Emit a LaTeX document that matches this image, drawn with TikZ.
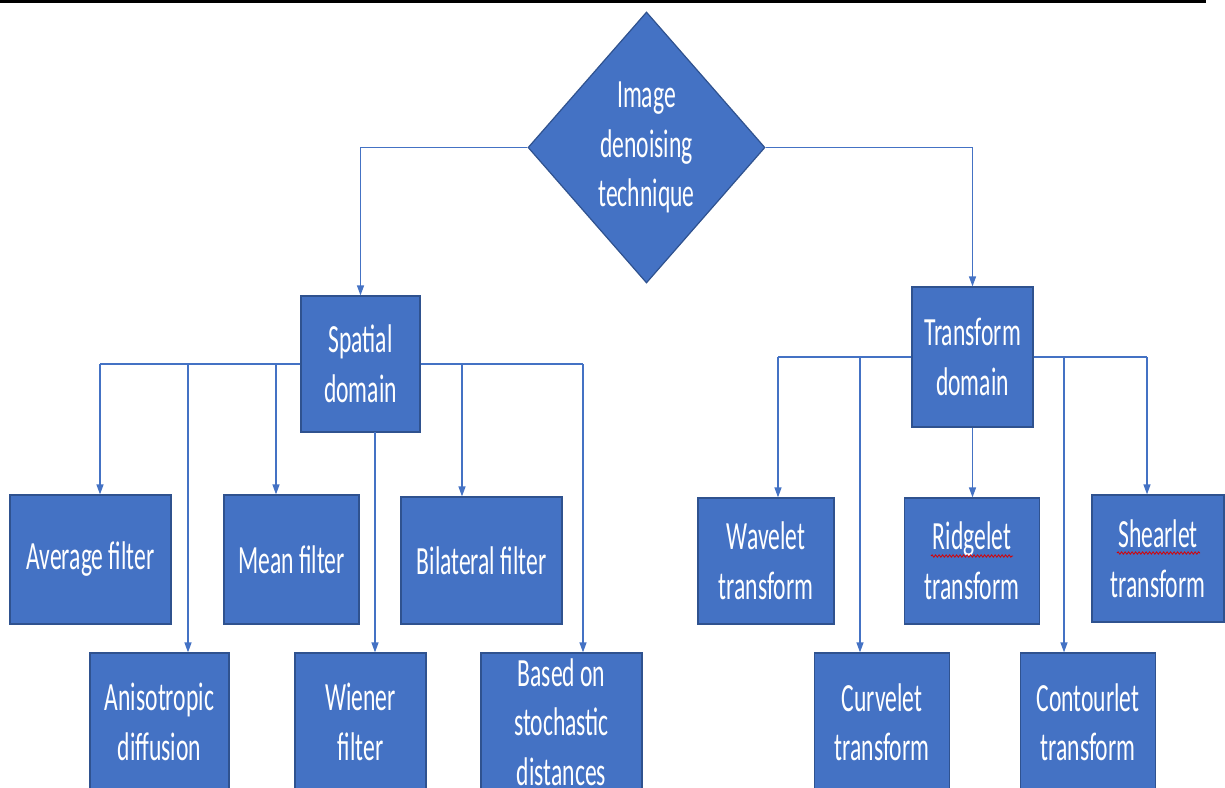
\documentclass[tikz,border=0pt]{standalone}
\usepackage{fontspec}
\setmainfont{Carlito}[FakeStretch=0.59]
\usetikzlibrary{shapes.geometric,arrows.meta,decorations.pathmorphing}
\definecolor{boxblue}{HTML}{4472C4}
\definecolor{boxedge}{HTML}{2F528F}
\definecolor{lineblue}{HTML}{4472C4}

\begin{document}
\begin{tikzpicture}[x=1pt,y=-1pt,
	box/.style={draw=boxedge, fill=boxblue, line width=1.2pt, text=white, align=center, inner sep=0pt, font=\fontsize{40}{49.5}\selectfont},
	link/.style={draw=lineblue, line width=1.3pt},
	arr/.style={link, -{Triangle[length=10pt,width=7pt]}},
	squiggle/.style={draw=red!85!black, line width=0.8pt, decorate, decoration={snake, amplitude=1.2, segment length=3.5}}]
	\useasboundingbox (0,0) rectangle (1225,787);
	\draw[line width=3pt] (0,1.5) -- (1206,1.5);

	\node [box, diamond, aspect=0.875, minimum width=237, minimum height=271] (root) at (646.5,147.5) {Image \\ denoising \\ technique};

	\node [box, minimum width=119, minimum height=136] (spat) at (360.5,364) {Spatial \\ domain};
	\node [box, minimum width=121, minimum height=140] (trans) at (972.5,357) {Transform \\ domain};

	\node [box, minimum width=161, minimum height=129] (avg) at (90.5,559.5) {Average filter};
	\node [box, minimum width=135, minimum height=129] (mean) at (291.5,559.5) {Mean filter};
	\node [box, minimum width=161, minimum height=127] (bil) at (481.5,560.5) {Bilateral filter};
	\node [box, minimum width=139, minimum height=138] (ani) at (159.5,722) {Anisotropic \\ diffusion};
	\node [box, minimum width=131, minimum height=138] (wie) at (360.5,722) {Wiener \\ filter};
	\node [box, minimum width=161, minimum height=138] (bas) at (561.5,722) {Based on \\ stochastic \\ distances};

	\node [box, minimum width=136, minimum height=126] (wav) at (766,561) {Wavelet \\ transform};
	\node [box, minimum width=135, minimum height=126] (ridg) at (972,561) {Ridgelet \\ transform};
	\node [box, minimum width=132, minimum height=127] (shear) at (1158,558.5) {Shearlet \\ transform};
	\node [box, minimum width=135, minimum height=138] (curv) at (882,722) {Curvelet \\ transform};
	\node [box, minimum width=135, minimum height=138] (cont) at (1088,722) {Contourlet \\ transform};

	\draw[squiggle] (931,556) -- (1013,556);
	\draw[squiggle] (1117,553) -- (1200,553);

	\draw[arr] (root.west) -| (spat.north);
	\draw[arr] (root.east) -| (trans.north);

	\coordinate (jAvg) at (100,364);
	\coordinate (jAni) at (188,364);
	\coordinate (jMean) at (276,364);
	\coordinate (jBil) at (462,364);
	\coordinate (jBas) at (583,364);
	\coordinate (jWie) at (375,432);
	\draw[link] (spat.west) -- (jAvg);
	\draw[link] (spat.east) -- (jBas);
	\draw[arr] (jAvg) -- (jAvg |- avg.north);
	\draw[arr] (jAni) -- (jAni |- ani.north);
	\draw[arr] (jMean) -- (jMean |- mean.north);
	\draw[arr] (jBil) -- (jBil |- bil.north);
	\draw[arr] (jBas) -- (jBas |- bas.north);
	\draw[arr] (jWie) -- (jWie |- wie.north);

	\coordinate (jWav) at (778,357);
	\coordinate (jCur) at (860,357);
	\coordinate (jCon) at (1064,357);
	\coordinate (jShe) at (1147,357);
	\draw[link] (trans.west) -- (jWav);
	\draw[link] (trans.east) -- (jShe);
	\draw[arr] (jWav) -- (jWav |- wav.north);
	\draw[arr] (jCur) -- (jCur |- curv.north);
	\draw[arr] (trans.south) -- (trans.south |- ridg.north);
	\draw[arr] (jCon) -- (jCon |- cont.north);
	\draw[arr] (jShe) -- (jShe |- shear.north);
\end{tikzpicture}
\end{document}
